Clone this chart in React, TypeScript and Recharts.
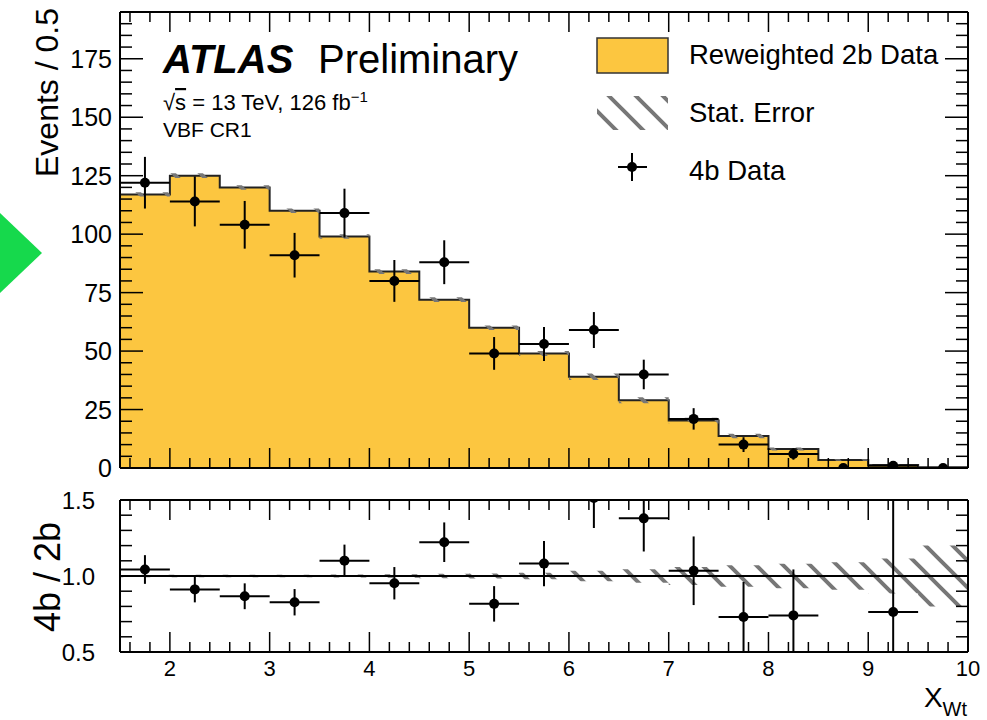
import React from "react";
import { ComposedChart, Area, Scatter, ErrorBar, XAxis, YAxis, ReferenceLine } from "recharts";

// histogram binning (X_Wt, 0.5 wide bins)
const binEdges = [1.5, 2, 2.5, 3, 3.5, 4, 4.5, 5, 5.5, 6, 6.5, 7, 7.5, 8, 8.5, 9, 9.5, 10];
// reweighted 2b data per bin
const reweighted2b = [117, 125, 120, 110, 99, 84, 72, 60, 49, 39, 29, 20.3, 13.7, 8.1, 3.4, 1.31, 0.3];
// 4b data counts per bin
const counts4b = [122, 114, 104, 91, 109, 80, 88, 49, 53, 59, 40, 21, 10, 6, 0, 1, 0];
// relative stat. error of the 2b prediction
const statRelErr = [0.008, 0.008, 0.008, 0.009, 0.01, 0.012, 0.014, 0.016, 0.022, 0.035, 0.045, 0.06, 0.07, 0.08, 0.09, 0.115, 0.2];

// ticks
const xTicks = [1.6, 1.8, 2, 2.2, 2.4, 2.6, 2.8, 3, 3.2, 3.4, 3.6, 3.8, 4, 4.2, 4.4, 4.6, 4.8, 5, 5.2, 5.4, 5.6, 5.8, 6, 6.2, 6.4, 6.6, 6.8, 7, 7.2, 7.4, 7.6, 7.8, 8, 8.2, 8.4, 8.6, 8.8, 9, 9.2, 9.4, 9.6, 9.8, 10];
const xLabels = [2, 3, 4, 5, 6, 7, 8, 9, 10];
const topYTicks = [0, 5, 10, 15, 20, 25, 30, 35, 40, 45, 50, 55, 60, 65, 70, 75, 80, 85, 90, 95, 100, 105, 110, 115, 120, 125, 130, 135, 140, 145, 150, 155, 160, 165, 170, 175, 180, 185, 190];
const topYLabels = [0, 25, 50, 75, 100, 125, 150, 175];
const ratioYTicks = [0.5, 0.6, 0.7, 0.8, 0.9, 1.0, 1.1, 1.2, 1.3, 1.4, 1.5];
const ratioYLabels = [0.5, 1.0, 1.5];

const FONT = '"Liberation Sans", Arial, Helvetica, sans-serif';
const FILL = "#fcc640";
const HATCH = "#777";
const RATIO_MIN = 0.5;
const RATIO_MAX = 1.5;

const nBins = reweighted2b.length;
const centers = binEdges.slice(0, -1).map((e, i) => (e + binEdges[i + 1]) / 2);

const histData = binEdges.map((x, i) => {
  const k = Math.min(i, nBins - 1);
  const v = reweighted2b[k];
  const r = statRelErr[k];
  return { x, y: v, band: [v * (1 - r), v * (1 + r)], ratioBand: [1 - r, 1 + r] };
});

const points4b = centers.map((x, i) => ({ x, y: counts4b[i], ex: 0.25, ey: Math.sqrt(counts4b[i]) }));

// ratio points; error bars are cut at the panel edges like the frame clips them
const ratioPoints = centers
  .map((x, i) => {
    const n = counts4b[i];
    const y = n / reweighted2b[i];
    const err = Math.sqrt(n) / reweighted2b[i];
    const lo = Math.max(y - err, RATIO_MIN);
    const hi = Math.min(y + err, RATIO_MAX);
    const inside = y <= RATIO_MAX && y >= RATIO_MIN;
    return { x, y, n, ex: inside ? 0.25 : 0, ey: [y - lo, hi - y] };
  })
  .filter((d) => d.n > 0);

const near = (a: number, list: number[]) => list.some((b) => Math.abs(a - b) < 1e-6);
const isInt = (v: number) => Math.abs(v - Math.round(v)) < 1e-6;

function XTick(props: any) {
  const { x, y, payload, side, labels } = props;
  const v = payload.value;
  const major = isInt(v);
  const len = major ? 20 : 10;
  const dir = side === "bottom" ? -1 : 1;
  return (
    <g>
      <line x1={x} x2={x} y1={y} y2={y + dir * len} stroke="#000" strokeWidth={1.5} />
      {labels && near(v, xLabels) ? (
        <text x={x} y={y + 24} textAnchor="middle" fontSize={22} fontFamily={FONT} fill="#000">
          {v}
        </text>
      ) : null}
    </g>
  );
}

function YTick(props: any) {
  const { x, y, payload, side, majors, labels, majorLen, minorLen, gap, digits, fontSize } = props;
  const v = payload.value;
  const major = near(v, majors);
  const len = major ? majorLen : minorLen;
  const dir = side === "left" ? 1 : -1;
  return (
    <g>
      <line x1={x} x2={x + dir * len} y1={y} y2={y} stroke="#000" strokeWidth={1.5} />
      {side === "left" && near(v, labels) ? (
        <text x={x - gap} y={y} dy="0.36em" textAnchor="end" fontSize={fontSize} fontFamily={FONT} fill="#000">
          {digits ? v.toFixed(digits) : v}
        </text>
      ) : null}
    </g>
  );
}

const hatchPath = (s: number) => `M-3,-3 L${s + 3},${s + 3} M-3,${s - 3} L3,${s + 3} M${s - 3},-3 L${s + 3},3`;

function Hatch({ id }: { id: string }) {
  return (
    <pattern id={id} patternUnits="userSpaceOnUse" width={27} height={27}>
      <path d={hatchPath(27)} stroke={HATCH} strokeWidth={4} fill="none" />
    </pattern>
  );
}

const axisLine = { stroke: "#000", strokeWidth: 2 };

function Dot(p: any) {
  return <circle cx={p.cx} cy={p.cy} r={5} fill="#000" />;
}

export default function App() {
  return (
    <div style={{ position: "absolute", left: 0, top: 0, width: 987, height: 720, background: "#fff", fontFamily: FONT }}>
      {/* main panel: plot area x 120..968, y 12..468 */}
      <div style={{ position: "absolute", left: 0, top: 0 }}>
        <ComposedChart width={987} height={496} margin={{ top: 11, right: 18, left: 119, bottom: 27 }}>
          <defs>
            <Hatch id="hatchTop" />
          </defs>
          <XAxis dataKey="x" type="number" domain={[1.5, 10]} allowDataOverflow ticks={xTicks} interval={0}
            height={1} tickSize={0} tickMargin={0} axisLine={axisLine}
            tick={<XTick side="bottom" />} />
          <XAxis xAxisId="top" orientation="top" dataKey="x" type="number" domain={[1.5, 10]} allowDataOverflow ticks={xTicks} interval={0}
            height={1} tickSize={0} tickMargin={0} axisLine={axisLine}
            tick={<XTick side="top" />} />
          <YAxis type="number" domain={[0, 195]} allowDataOverflow ticks={topYTicks} interval={0}
            width={1} tickSize={0} tickMargin={0} axisLine={axisLine}
            tick={<YTick side="left" majors={topYLabels} labels={topYLabels} majorLen={23} minorLen={12} gap={8} fontSize={25} />} />
          <YAxis yAxisId="right" orientation="right" type="number" domain={[0, 195]} allowDataOverflow ticks={topYTicks} interval={0}
            width={1} tickSize={0} tickMargin={0} axisLine={axisLine}
            tick={<YTick side="right" majors={topYLabels} labels={[]} majorLen={23} minorLen={12} gap={8} />} />
          <Area data={histData} dataKey="y" type="stepAfter" fill={FILL} fillOpacity={1} stroke="#222" strokeWidth={2}
            isAnimationActive={false} dot={false} activeDot={false} />
          <Area data={histData} dataKey="band" type="stepAfter" fill="url(#hatchTop)" fillOpacity={1} stroke="none"
            isAnimationActive={false} dot={false} activeDot={false} />
          <Scatter data={points4b} dataKey="y" shape={Dot} isAnimationActive={false}>
            <ErrorBar dataKey="ey" direction="y" width={0} stroke="#000" strokeWidth={2} />
            <ErrorBar dataKey="ex" direction="x" width={0} stroke="#000" strokeWidth={2} />
          </Scatter>
        </ComposedChart>
      </div>

      {/* ratio panel: plot area x 120..968, y 500..652 */}
      <div style={{ position: "absolute", left: 0, top: 484 }}>
        <ComposedChart width={987} height={236} margin={{ top: 15, right: 18, left: 119, bottom: 67 }}>
          <defs>
            <Hatch id="hatchRatio" />
          </defs>
          <XAxis dataKey="x" type="number" domain={[1.5, 10]} allowDataOverflow ticks={xTicks} interval={0}
            height={1} tickSize={0} tickMargin={0} axisLine={axisLine}
            tick={<XTick side="bottom" labels />} />
          <XAxis xAxisId="top" orientation="top" dataKey="x" type="number" domain={[1.5, 10]} allowDataOverflow ticks={xTicks} interval={0}
            height={1} tickSize={0} tickMargin={0} axisLine={axisLine}
            tick={<XTick side="top" />} />
          <YAxis type="number" domain={[RATIO_MIN, RATIO_MAX]} allowDataOverflow ticks={ratioYTicks} interval={0}
            width={1} tickSize={0} tickMargin={0} axisLine={axisLine}
            tick={<YTick side="left" majors={ratioYLabels} labels={ratioYLabels} majorLen={23} minorLen={12} gap={25} digits={1} fontSize={24} />} />
          <YAxis yAxisId="right" orientation="right" type="number" domain={[RATIO_MIN, RATIO_MAX]} allowDataOverflow ticks={ratioYTicks} interval={0}
            width={1} tickSize={0} tickMargin={0} axisLine={axisLine}
            tick={<YTick side="right" majors={ratioYLabels} labels={[]} majorLen={23} minorLen={12} gap={25} />} />
          <Area data={histData} dataKey="ratioBand" type="stepAfter" fill="url(#hatchRatio)" fillOpacity={1} stroke="none"
            isAnimationActive={false} dot={false} activeDot={false} />
          <ReferenceLine y={1} stroke="#000" strokeWidth={2} />
          <Scatter data={ratioPoints} dataKey="y" shape={Dot} isAnimationActive={false}>
            <ErrorBar dataKey="ey" direction="y" width={0} stroke="#000" strokeWidth={2} />
            <ErrorBar dataKey="ex" direction="x" width={0} stroke="#000" strokeWidth={2} />
          </Scatter>
        </ComposedChart>
      </div>

      {/* titles, labels and legend */}
      <svg width={987} height={720} style={{ position: "absolute", left: 0, top: 0, pointerEvents: "none" }} fontFamily={FONT}>
        <defs>
          <Hatch id="hatchLegend" />
        </defs>
        <polygon points="0,213 42,253 0,293" fill="#16d94c" />
        <text transform="translate(58,8) rotate(-90)" textAnchor="end" fontSize={32} fill="#000">Events / 0.5</text>
        <text transform="translate(60,577) rotate(-90)" textAnchor="middle" fontSize={36} fill="#000">4b / 2b</text>

        <text x={163} y={73} fontSize={40} fontWeight="bold" fontStyle="italic" fill="#000">ATLAS</text>
        <text x={318} y={73} fontSize={40} fill="#000">Preliminary</text>
        <text x={163} y={110} fontSize={22} fill="#000">
          √<tspan style={{ textDecoration: "overline" }}>s</tspan> = 13 TeV, 126 fb<tspan fontSize={15} dy={-8}>−1</tspan>
        </text>
        <text x={163} y={137} fontSize={21} fill="#000">VBF CR1</text>

        <rect x={597} y={38} width={71} height={35} fill={FILL} stroke="#333" strokeWidth={1.5} />
        <text x={689} y={64} fontSize={27.5} fill="#000">Reweighted 2b Data</text>
        <rect x={597} y={96} width={71} height={34} fill="url(#hatchLegend)" />
        <text x={689} y={122} fontSize={27.5} fill="#000">Stat. Error</text>
        <line x1={618} x2={647} y1={167} y2={167} stroke="#000" strokeWidth={2} />
        <line x1={632} x2={632} y1={153} y2={181} stroke="#000" strokeWidth={2} />
        <circle cx={632} cy={167} r={5} fill="#000" />
        <text x={689} y={180} fontSize={27.5} fill="#000">4b Data</text>

        <text x={967} y={707} textAnchor="end" fontSize={28} fill="#000">
          X<tspan fontSize={20} dy={9}>Wt</tspan>
        </text>
      </svg>
    </div>
  );
}
